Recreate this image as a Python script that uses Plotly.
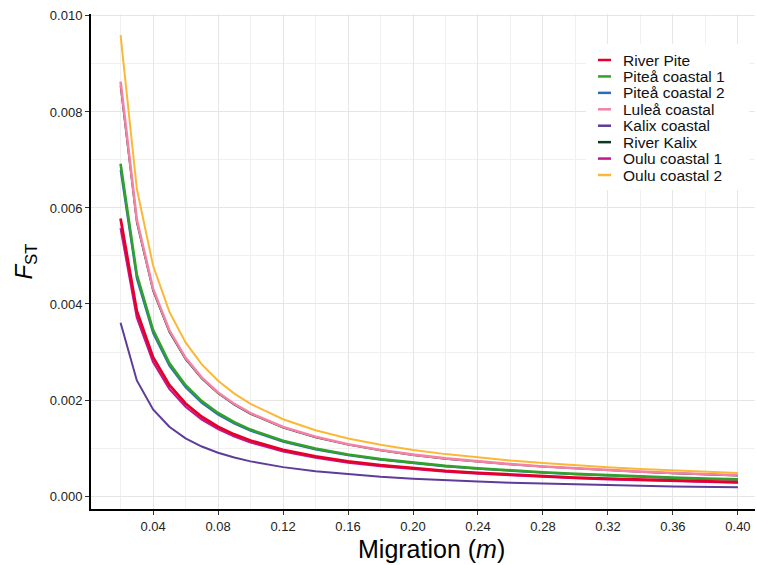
import plotly.graph_objects as go

migration = [0.02, 0.03, 0.04, 0.05, 0.06, 0.07, 0.08, 0.09, 0.10, 0.12, 0.14, 0.16,
             0.18, 0.20, 0.22, 0.24, 0.26, 0.28, 0.30, 0.32, 0.34, 0.36, 0.38, 0.40]

river_pite = [0.00578, 0.003853, 0.00289, 0.002312, 0.001927, 0.001651, 0.001445, 0.001284,
              0.001156, 0.000963, 0.000826, 0.0007225, 0.000642, 0.000578, 0.000525, 0.000482,
              0.000445, 0.000413, 0.000385, 0.000361, 0.00034, 0.000321, 0.000304, 0.000289]
pitea_coastal_1 = [0.00692, 0.004613, 0.00346, 0.002768, 0.002307, 0.001977, 0.00173, 0.001538,
                   0.001384, 0.001153, 0.000989, 0.000865, 0.000769, 0.000692, 0.000629, 0.000577,
                   0.000532, 0.000494, 0.000461, 0.0004325, 0.000407, 0.000384, 0.000364, 0.000346]
pitea_coastal_2 = [0.00679, 0.004527, 0.003395, 0.002716, 0.002263, 0.00194, 0.0016975, 0.001509,
                   0.001358, 0.001132, 0.00097, 0.000849, 0.000754, 0.000679, 0.000617, 0.000566,
                   0.000522, 0.000485, 0.000453, 0.000424, 0.000399, 0.000377, 0.000357, 0.0003395]
lulea_coastal = [0.00863, 0.005753, 0.004315, 0.003452, 0.002877, 0.002466, 0.0021575, 0.001918,
                 0.001726, 0.001438, 0.001233, 0.001079, 0.000959, 0.000863, 0.000785, 0.000719,
                 0.000664, 0.000616, 0.000575, 0.000539, 0.000508, 0.000479, 0.000454, 0.0004315]
kalix_coastal = [0.00361, 0.002407, 0.001805, 0.001444, 0.001203, 0.001031, 0.0009025, 0.000802,
                 0.000722, 0.000602, 0.000516, 0.000451, 0.000401, 0.000361, 0.000328, 0.000301,
                 0.000278, 0.000258, 0.000241, 0.000226, 0.000212, 0.0002006, 0.00019, 0.0001805]
river_kalix = [0.00855, 0.0057, 0.004275, 0.00342, 0.00285, 0.002443, 0.0021375, 0.0019,
               0.00171, 0.001425, 0.001221, 0.001069, 0.00095, 0.000855, 0.000777, 0.0007125,
               0.000658, 0.000611, 0.00057, 0.000534, 0.000503, 0.000475, 0.00045, 0.0004275]
oulu_coastal_1 = [0.00558, 0.00372, 0.00279, 0.002232, 0.00186, 0.001594, 0.001395, 0.00124,
                  0.001116, 0.00093, 0.000797, 0.0006975, 0.00062, 0.000558, 0.000507, 0.000465,
                  0.000429, 0.000399, 0.000372, 0.000349, 0.000328, 0.00031, 0.000294, 0.000279]
oulu_coastal_2 = [0.0096, 0.0064, 0.0048, 0.00384, 0.0032, 0.002743, 0.0024, 0.002133,
                  0.00192, 0.0016, 0.001371, 0.0012, 0.001067, 0.00096, 0.000873, 0.0008,
                  0.000738, 0.000686, 0.00064, 0.0006, 0.000565, 0.000533, 0.000505, 0.00048]

series_names = ["River Pite", "Piteå coastal 1", "Piteå coastal 2", "Luleå coastal",
                "Kalix coastal", "River Kalix", "Oulu coastal 1", "Oulu coastal 2"]
series_values = [river_pite, pitea_coastal_1, pitea_coastal_2, lulea_coastal,
                 kalix_coastal, river_kalix, oulu_coastal_1, oulu_coastal_2]
colors = ["#E4002B", "#33A02C", "#2A6EBB", "#F283A7", "#5E3C99", "#0B3B1F", "#C2168C", "#FBB838"]
x_title = "Migration (<i>m</i>)"
y_title = "<i>F</i><sub>ST</sub>"

draw_order = [2, 1, 5, 3, 6, 0, 4, 7]
widths = {0: 2.8, 1: 2.6, 2: 2.0, 3: 2.6, 4: 2.0, 5: 1.8, 6: 2.2, 7: 2.0}

fig = go.Figure()
for i in draw_order:
    fig.add_trace(go.Scatter(x=migration, y=series_values[i], mode="lines",
                             line=dict(color=colors[i], width=widths[i]),
                             name=series_names[i], showlegend=False))

# manual legend (paper coordinates, pixel-based)
W, H = 757, 565
ML, MR, MT, MB = 91, 2, 14, 56
pw, ph = W - ML - MR, H - MT - MB

def px_x(p):
    return (p - ML) / pw

def px_y(p):
    return 1 - (p - MT) / ph

shapes = [dict(type="rect", xref="paper", yref="paper",
               x0=px_x(586), x1=px_x(749), y0=px_y(190), y1=px_y(44),
               fillcolor="white", line=dict(width=0), layer="above")]
annotations = []
for k, name in enumerate(series_names):
    yc = 60 + k * 16.43
    shapes.append(dict(type="line", xref="paper", yref="paper",
                       x0=px_x(598), x1=px_x(611), y0=px_y(yc), y1=px_y(yc),
                       line=dict(color=colors[k], width=2.5), layer="above"))
    annotations.append(dict(text=name, xref="paper", yref="paper",
                            x=px_x(621), y=px_y(yc), xanchor="left", yanchor="middle",
                            showarrow=False, font=dict(size=15.5, color="#111")))

annotations.append(dict(text=x_title, xref="paper", yref="paper",
                        x=px_x(431), y=px_y(549), xanchor="center", yanchor="middle",
                        showarrow=False, font=dict(size=25, color="black")))

fig.update_layout(
    width=W, height=H,
    margin=dict(l=ML, r=MR, t=MT, b=MB),
    paper_bgcolor="white", plot_bgcolor="white",
    font=dict(family="Liberation Sans, Arial, sans-serif", color="#1a1a1a"),
    showlegend=False,
    shapes=shapes, annotations=annotations,
    xaxis=dict(range=[0.0018, 0.4105], tick0=0, dtick=0.04, tickformat=".2f",
               showgrid=True, gridcolor="#e6e6e6", gridwidth=1.3,
               minor=dict(dtick=0.02, tick0=0, showgrid=True, gridcolor="#f0f0f0", gridwidth=0.8),
               showline=True, linecolor="black", linewidth=2,
               ticks="outside", ticklen=4, tickcolor="#333", tickwidth=1,
               tickfont=dict(size=13, color="#222"), zeroline=False),
    yaxis=dict(range=[-0.00027, 0.01004], tick0=0, dtick=0.002, tickformat=".3f",
               showgrid=True, gridcolor="#e6e6e6", gridwidth=1.3,
               minor=dict(dtick=0.001, tick0=0, showgrid=True, gridcolor="#f0f0f0", gridwidth=0.8),
               showline=True, linecolor="black", linewidth=2,
               ticks="outside", ticklen=4, tickcolor="#333", tickwidth=1,
               tickfont=dict(size=13, color="#222"), zeroline=False,
               title=dict(text=y_title, font=dict(size=24, color="black"), standoff=10)),
)

fig.write_html("out.html")
